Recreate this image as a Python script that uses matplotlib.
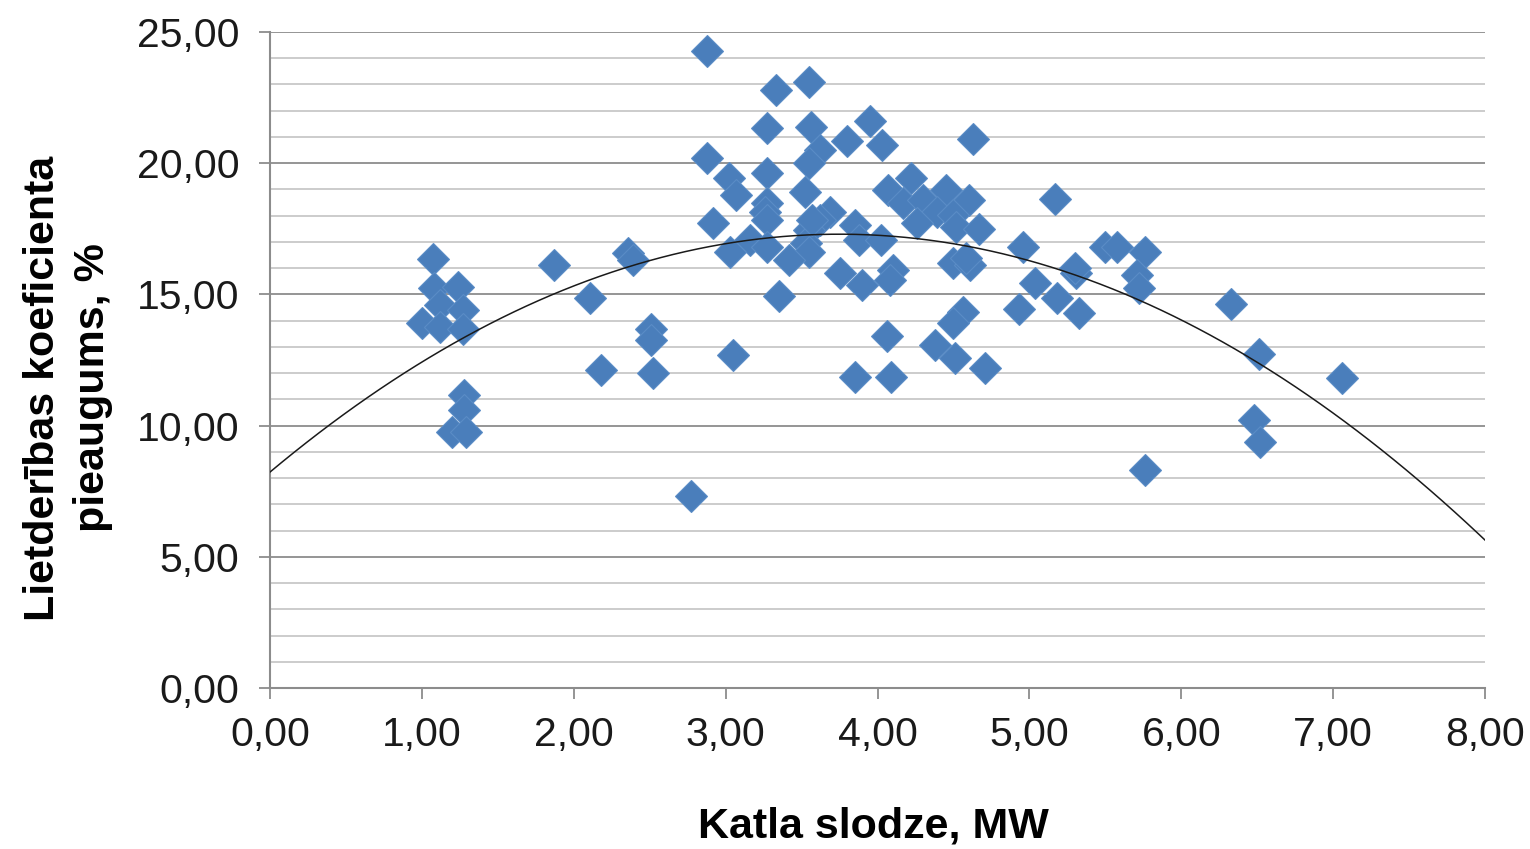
import numpy as np
import matplotlib.pyplot as plt
from matplotlib.ticker import MultipleLocator, FuncFormatter

plt.rcParams['font.family'] = ['Liberation Sans', 'DejaVu Sans']

# dati: katla slodze (MW) un lietderības koeficienta pieaugums (%)
slodze = [1.07, 1.08, 1.24, 1.12, 1.27, 1.00, 1.12, 1.27, 1.28, 1.28, 1.20, 1.29,
          1.87, 2.11, 2.36, 2.39, 2.51, 2.51, 2.18, 2.52, 2.77,
          2.88, 3.33, 3.55, 3.27, 3.56, 3.95, 3.80, 4.03, 4.63, 2.88, 3.62, 3.55,
          3.02, 3.07, 3.27, 3.52, 4.07, 4.22, 4.17, 4.30, 4.45, 4.60, 4.39, 4.50,
          4.26, 4.52, 4.67, 5.17, 3.27, 3.26, 3.27, 2.92, 3.69, 3.62, 3.55, 3.16,
          3.27, 3.03, 3.53, 3.55, 3.42, 3.85, 3.88, 4.02, 4.96, 4.50, 4.61, 4.58,
          3.75, 3.90, 4.10, 4.08, 5.04, 4.93, 5.18, 3.35, 4.56, 4.50, 4.06, 4.38,
          4.51, 4.71, 3.05, 3.85, 4.09, 5.50, 5.58, 5.76, 5.71, 5.72, 5.31, 5.33,
          6.33, 6.51, 6.48, 6.52, 5.76, 7.06, 3.57, 5.30]
pieaugums = [16.34, 15.23, 15.27, 14.60, 14.40, 13.90, 13.77, 13.70, 11.17, 10.60, 9.77, 9.77,
             16.12, 14.85, 16.57, 16.31, 13.67, 13.26, 12.12, 11.99, 7.33,
             24.29, 22.79, 23.10, 21.36, 21.39, 21.60, 20.85, 20.69, 20.92, 20.21, 20.50, 20.00,
             19.42, 18.79, 19.61, 18.91, 18.98, 19.42, 18.47, 18.60, 18.98, 18.60, 18.15, 18.03,
             17.71, 17.58, 17.48, 18.64, 18.47, 18.15, 17.84, 17.71, 18.15, 17.84, 17.45, 17.07,
             16.82, 16.63, 16.95, 16.63, 16.31, 17.64, 17.07, 17.07, 16.79, 16.18, 16.12, 16.40,
             15.80, 15.36, 15.93, 15.55, 15.42, 14.43, 14.85, 14.92, 14.34, 13.90, 13.41, 13.07,
             12.56, 12.18, 12.69, 11.86, 11.86, 16.82, 16.82, 16.63, 15.74, 15.23, 15.80, 14.28,
             14.63, 12.73, 10.21, 9.39, 8.31, 11.80, 17.84, 16.00]

# 2. pakāpes trenda līnijas koeficienti (nolasīti no attēla)
trend_coef = [-0.645, 4.836, 8.23]

fig = plt.figure(figsize=(15.3, 8.49), dpi=100)
ax = fig.add_axes([270/1530, 161/849, 1215/1530, 656/849])

ax.set_xlim(0, 8)
ax.set_ylim(0, 25)

# režģa līnijas
ax.yaxis.set_major_locator(MultipleLocator(5))
ax.yaxis.set_minor_locator(MultipleLocator(1))
ax.xaxis.set_major_locator(MultipleLocator(1))
ax.grid(True, which='major', axis='y', color='#8c8c8c', lw=1.3, zorder=0)
ax.grid(True, which='minor', axis='y', color='#c8c8c8', lw=1.3, zorder=0)
ax.set_axisbelow(True)

xs = np.linspace(0, 8, 200)
ax.plot(xs, np.polyval(trend_coef, xs), color='#1a1a1a', lw=1.1, zorder=3)
ax.plot(slodze, pieaugums, linestyle='none', marker='D', markersize=16,
        color='#4a7ebb', markeredgecolor='#5a8cc6', markeredgewidth=0.8, zorder=2)

fmt = FuncFormatter(lambda v, p: f"{v:.2f}".replace('.', ','))
ax.xaxis.set_major_formatter(fmt)
ax.yaxis.set_major_formatter(fmt)

for s in ['top', 'right']:
    ax.spines[s].set_visible(False)
for s in ['left', 'bottom']:
    ax.spines[s].set_color('#8c8c8c')
    ax.spines[s].set_linewidth(1.5)

ax.tick_params(axis='both', which='major', labelsize=29.5, colors='#8c8c8c',
               labelcolor='#1a1a1a', length=8, width=1.3)
ax.tick_params(axis='x', pad=12)
ax.tick_params(axis='y', pad=14)
ax.tick_params(axis='y', which='minor', length=0)

fig.text(0.571, 0.027, "Katla slodze, MW", fontsize=31, fontweight='bold',
         ha='center', va='center')
fig.text(0.0445, 0.543, "Lietderības koeficienta\npieaugums, %", fontsize=31,
         fontweight='bold', rotation=90, ha='center', va='center',
         multialignment='center', linespacing=1.32)

fig.savefig('out.png', dpi=100)
